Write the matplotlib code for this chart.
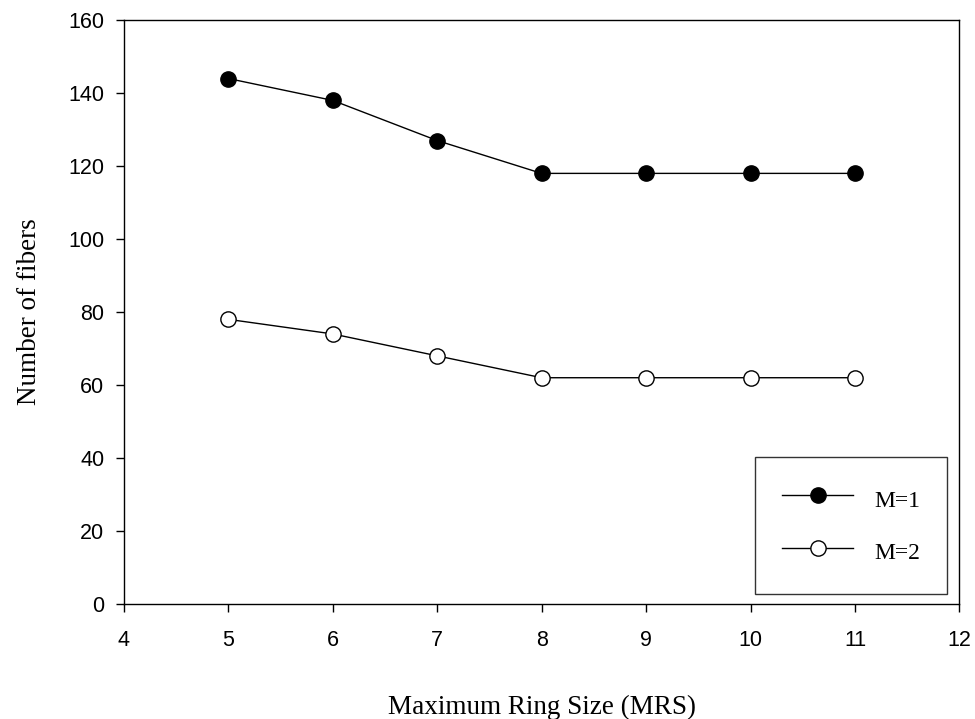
import numpy as np
from matplotlib import pyplot as plt

# ---------- Data ---------- #
mrs = [5, 6, 7, 8, 9, 10, 11]
fibers_m1 = [144, 138, 127, 118, 118, 118, 118]
fibers_m2 = [78, 74, 68, 62, 62, 62, 62]

# ---------- Plotting ---------- #
fig = plt.figure(figsize=(9.75, 7.19), dpi=100)
ax = fig.add_axes([0.127, 0.160, 0.857, 0.812])

ax.plot(mrs, fibers_m1, "-o", color="black", lw=1, ms=11,
        mfc="black", mec="black", label="M=1")
ax.plot(mrs, fibers_m2, "-o", color="black", lw=1, ms=11,
        mfc="white", mec="black", mew=1, label="M=2")

ax.set_xlim(4, 12)
ax.set_ylim(0, 160)
ax.set_xticks(range(4, 13))
ax.set_yticks(range(0, 161, 20))
ax.tick_params(labelsize=15.5, direction="out", length=6, width=1)
for lab in ax.get_xticklabels() + ax.get_yticklabels():
    lab.set_family("Liberation Sans")
ax.tick_params(axis="x", pad=13)
ax.tick_params(axis="y", pad=8)
for s in ax.spines.values():
    s.set_linewidth(1)

ax.set_xlabel("Maximum Ring Size (MRS)", family="Liberation Serif",
              fontsize=19.5, labelpad=31)
ax.set_ylabel("Number of fibers", family="Liberation Serif",
              fontsize=19.5, labelpad=19)

leg = ax.legend(loc="lower right", bbox_to_anchor=(0.9856, 0.017),
                prop={"family": "Liberation Serif", "size": 17},
                frameon=True, fancybox=False, edgecolor="black",
                handlelength=3.0, handleheight=1.6, handletextpad=0.9,
                labelspacing=0.95, borderpad=1.15, borderaxespad=0)
leg.get_frame().set_linewidth(1)

fig.savefig("out.png", dpi=100)
